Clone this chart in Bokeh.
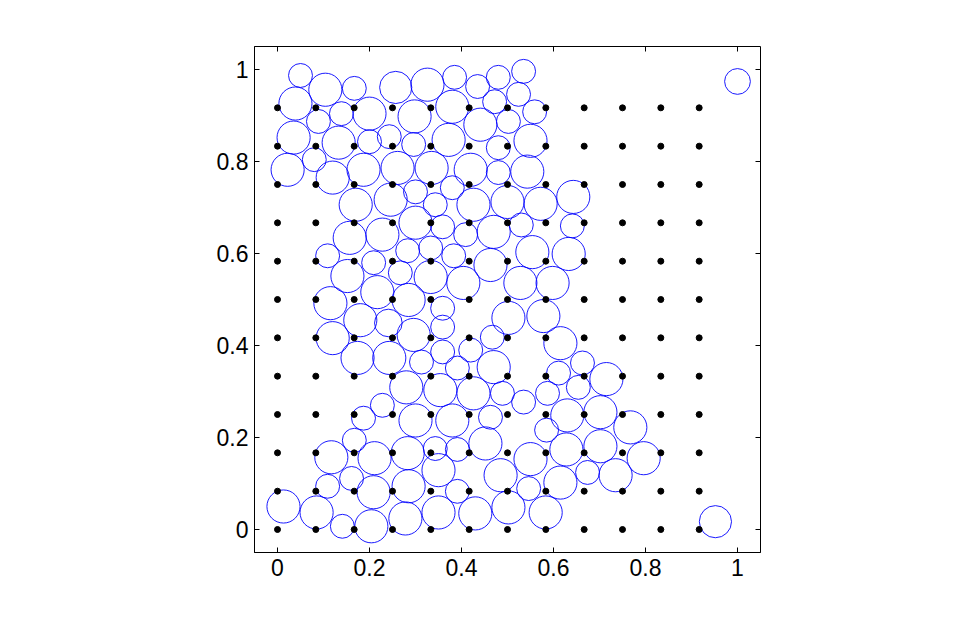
import math
from bokeh.plotting import figure
from bokeh.models import Range1d, FixedTicker, ColumnDataSource
from bokeh.embed import file_html
from bokeh.resources import INLINE

# circle centres and radii (data units)
cx = [0.050, 0.104, 0.167, 0.257, 0.326, 0.385, 0.435, 0.480, 0.535, 0.524,
      0.039, 0.089, 0.139, 0.200, 0.298, 0.380, 0.472, 0.441, 0.502, 0.559,
      0.035, 0.133, 0.200, 0.243, 0.296, 0.372, 0.480, 0.550, 0.080, 0.022,
      0.120, 0.187, 0.261, 0.335, 0.420, 0.480, 0.543, 0.170, 0.246, 0.300,
      0.380, 0.343, 0.426, 0.500, 0.572, 0.643, 0.157, 0.228, 0.300, 0.359,
      0.409, 0.470, 0.530, 0.641, 0.109, 0.209, 0.283, 0.333, 0.383, 0.463,
      0.554, 0.633, 0.152, 0.267, 0.333, 0.404, 0.528, 0.598, 0.217, 0.115,
      0.180, 0.285, 0.359, 0.502, 0.578, 0.241, 0.296, 0.359, 0.467, 0.120,
      0.615, 0.174, 0.243, 0.359, 0.420, 0.313, 0.391, 0.470, 0.663, 0.611,
      0.715, 0.654, 0.587, 0.280, 0.354, 0.426, 0.489, 0.535, 0.228, 0.187,
      0.300, 0.380, 0.463, 0.630, 0.702, 0.767, 0.585, 0.167, 0.117, 0.211,
      0.283, 0.343, 0.391, 0.452, 0.550, 0.628, 0.702, 0.796, 0.350, 0.485,
      0.674, 0.735, 0.615, 0.109, 0.161, 0.209, 0.285, 0.391, 0.546, 0.013,
      0.085, 0.141, 0.204, 0.278, 0.350, 0.430, 0.502, 0.583, 1.000, 0.952]
cy = [0.987, 0.956, 0.959, 0.961, 0.967, 0.983, 0.963, 0.983, 0.996, 0.946,
      0.926, 0.887, 0.904, 0.904, 0.898, 0.919, 0.930, 0.880, 0.887, 0.908,
      0.852, 0.841, 0.843, 0.854, 0.837, 0.847, 0.830, 0.845, 0.804, 0.782,
      0.765, 0.782, 0.786, 0.786, 0.782, 0.776, 0.778, 0.706, 0.717, 0.734,
      0.743, 0.706, 0.706, 0.712, 0.708, 0.723, 0.634, 0.641, 0.667, 0.658,
      0.641, 0.647, 0.662, 0.660, 0.595, 0.580, 0.606, 0.612, 0.595, 0.575,
      0.603, 0.599, 0.551, 0.558, 0.549, 0.536, 0.536, 0.536, 0.516, 0.492,
      0.455, 0.499, 0.481, 0.460, 0.464, 0.449, 0.423, 0.440, 0.418, 0.416,
      0.405, 0.373, 0.373, 0.386, 0.390, 0.364, 0.351, 0.353, 0.362, 0.340,
      0.327, 0.309, 0.296, 0.309, 0.303, 0.296, 0.296, 0.277, 0.270, 0.242,
      0.237, 0.237, 0.244, 0.248, 0.255, 0.222, 0.216, 0.194, 0.157, 0.155,
      0.166, 0.176, 0.174, 0.187, 0.153, 0.174, 0.181, 0.155, 0.129, 0.118,
      0.124, 0.118, 0.102, 0.094, 0.111, 0.081, 0.094, 0.083, 0.089, 0.050,
      0.037, 0.007, 0.007, 0.024, 0.037, 0.035, 0.048, 0.037, 0.974, 0.017]
cr = [0.026, 0.036, 0.026, 0.035, 0.036, 0.026, 0.026, 0.026, 0.026, 0.026,
      0.036, 0.026, 0.026, 0.036, 0.036, 0.036, 0.026, 0.036, 0.026, 0.026,
      0.036, 0.036, 0.026, 0.026, 0.026, 0.036, 0.026, 0.036, 0.026, 0.036,
      0.036, 0.036, 0.036, 0.036, 0.036, 0.026, 0.036, 0.036, 0.036, 0.026,
      0.026, 0.026, 0.036, 0.036, 0.036, 0.036, 0.036, 0.036, 0.036, 0.026,
      0.026, 0.036, 0.026, 0.026, 0.026, 0.026, 0.026, 0.026, 0.026, 0.036,
      0.036, 0.036, 0.036, 0.026, 0.036, 0.036, 0.036, 0.036, 0.036, 0.036,
      0.036, 0.036, 0.026, 0.036, 0.036, 0.030, 0.036, 0.026, 0.026, 0.036,
      0.036, 0.036, 0.036, 0.026, 0.026, 0.026, 0.026, 0.036, 0.026, 0.026,
      0.036, 0.026, 0.026, 0.036, 0.036, 0.036, 0.026, 0.026, 0.026, 0.026,
      0.036, 0.036, 0.026, 0.036, 0.036, 0.036, 0.026, 0.026, 0.036, 0.036,
      0.036, 0.026, 0.026, 0.036, 0.036, 0.036, 0.036, 0.036, 0.036, 0.036,
      0.026, 0.036, 0.036, 0.026, 0.026, 0.036, 0.036, 0.026, 0.026, 0.036,
      0.036, 0.026, 0.036, 0.036, 0.036, 0.036, 0.036, 0.036, 0.028, 0.035]

# regular grid of black points
grid_vals = [0.0, 0.0833, 0.1667, 0.25, 0.3333, 0.4167,
             0.5, 0.5833, 0.6667, 0.75, 0.8333, 0.9167]

tick_vals = [0, 0.2, 0.4, 0.6, 0.8, 1]
tick_labels = {0: "0", 0.2: "0.2", 0.4: "0.4", 0.6: "0.6", 0.8: "0.8", 1: "1"}

gx = [x for y in grid_vals for x in grid_vals]
gy = [y for y in grid_vals for x in grid_vals]

X0, X1, Y0, Y1 = -0.05, 1.05, -0.05, 1.05

p = figure(width=960, height=600, output_backend="svg", toolbar_location=None,
           x_range=Range1d(X0, X1), y_range=Range1d(Y0, Y1),
           min_border_left=254, min_border_right=200, min_border_top=46,
           min_border_bottom=48)

p.grid.visible = False
p.outline_line_color = "black"
p.outline_line_width = 1
p.background_fill_color = "white"
p.border_fill_color = "white"

csrc = ColumnDataSource(dict(x=cx, y=cy, r=cr))
p.circle(x="x", y="y", radius="r", source=csrc, fill_color=None,
         line_color="#0000ff", line_width=0.9)

p.scatter(gx, gy, size=6, color="black", marker="circle")

for ax in (p.xaxis[0], p.yaxis[0]):
    ax.ticker = FixedTicker(ticks=tick_vals)
    ax.major_label_overrides = tick_labels
    ax.major_tick_in = 5
    ax.major_tick_out = 0
    ax.minor_tick_line_color = None
    ax.axis_line_color = "black"
    ax.major_label_text_font = "Liberation Sans"
    ax.major_label_text_font_size = "23px"
    ax.major_label_text_color = "black"
    ax.major_label_standoff = 6

# inward tick marks on the top and right edges of the box
p.ray(x=tick_vals, y=[Y1] * len(tick_vals), length=5, length_units="screen",
      angle=-math.pi / 2, line_color="black", line_width=1)
p.ray(x=[X1] * len(tick_vals), y=tick_vals, length=5, length_units="screen",
      angle=math.pi, line_color="black", line_width=1)

open("out.html", "w").write(file_html(p, INLINE))
